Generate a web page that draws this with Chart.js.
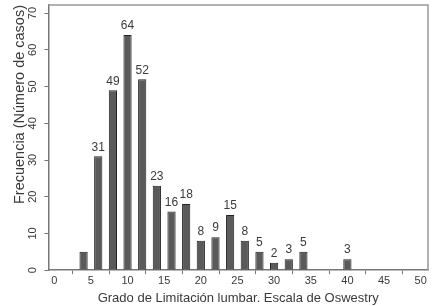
<!DOCTYPE html>
<html>
<head>
<meta charset="utf-8">
<script src="https://cdn.jsdelivr.net/npm/chart.js@4"></script>
<style>
  html, body { margin: 0; padding: 0; background: #fff; }
  #wrap { width: 436px; height: 306px; }
</style>
</head>
<body>
<div id="wrap"><canvas id="grafico"></canvas></div>
<script>
// ── Datos ─────────────────────────────────────────────
const PUNTUACION = [4, 6, 8, 10, 12, 14, 16, 18, 20, 22, 24, 26, 28, 30, 32, 34, 40];
const CASOS = [5, 31, 49, 64, 52, 23, 16, 18, 8, 9, 15, 8, 5, 2, 3, 5, 3];
const ETIQUETAS = ["", "31", "49", "64", "52", "23", "16", "18", "8", "9", "15", "8", "5", "2", "3", "5", "3"];
const TICKS_X = [0, 5, 10, 15, 20, 25, 30, 35, 40, 45, 50];
const TICKS_Y = [0, 10, 20, 30, 40, 50, 60, 70];

const FUENTE = "'Liberation Sans', Arial, sans-serif";
const GRIS_TEXTO = "#3a3a3a";

// Marco superior/derecho, etiquetas de las barras y ticks Y girados
const marcoPlugin = {
  id: "marco",
  afterDatasetsDraw(chart) {
    const { ctx, chartArea: a } = chart;
    ctx.save();
    ctx.strokeStyle = "#999";
    ctx.lineWidth = 1.5;
    ctx.beginPath();
    ctx.moveTo(a.left, a.top);
    ctx.lineTo(a.right, a.top);
    ctx.lineTo(a.right, a.bottom);
    ctx.stroke();

    const meta = chart.getDatasetMeta(0);
    ctx.fillStyle = GRIS_TEXTO;
    ctx.font = "12px " + FUENTE;
    ctx.textAlign = "center";
    ctx.textBaseline = "bottom";
    meta.data.forEach((bar, i) => {
      if (ETIQUETAS[i]) ctx.fillText(ETIQUETAS[i], bar.x, bar.y - 3);
    });

    // etiquetas del eje Y, leídas de abajo hacia arriba
    const y = chart.scales.y;
    ctx.font = "11px " + FUENTE;
    ctx.textBaseline = "middle";
    TICKS_Y.forEach((v) => {
      ctx.save();
      ctx.translate(y.right - 15, y.getPixelForValue(v));
      ctx.rotate(-Math.PI / 2);
      ctx.fillText(String(v), 0, 0);
      ctx.restore();
    });
    ctx.restore();
  },
};

new Chart(document.getElementById("grafico"), {
  type: "bar",
  data: {
    datasets: [
      {
        data: PUNTUACION.map((x, i) => ({ x, y: CASOS[i] })),
        backgroundColor: "#5a5a5a",
        borderColor: "#222",
        borderWidth: 1,
        barPercentage: 0.56,
        categoryPercentage: 1,
      },
    ],
  },
  options: {
    responsive: true,
    maintainAspectRatio: false,
    animation: false,
    layout: { padding: { top: 5, right: 8, bottom: 0, left: 11 } },
    plugins: { legend: { display: false }, tooltip: { enabled: false } },
    scales: {
      x: {
        type: "linear",
        offset: false,
        min: -0.8,
        max: 51,
        afterBuildTicks: (s) => { s.ticks = TICKS_X.map((v) => ({ value: v })); },
        grid: { display: true, drawOnChartArea: false, drawTicks: true, tickLength: 4, tickColor: "#777" },
        border: { display: true, color: "#777", width: 1.5 },
        ticks: { color: GRIS_TEXTO, font: { family: FUENTE, size: 11 }, padding: 0, maxRotation: 0 },
        title: {
          display: true,
          text: "Grado de Limitación lumbar. Escala de Oswestry",
          color: GRIS_TEXTO,
          font: { family: FUENTE, size: 13 },
          padding: { top: 3, bottom: 0 },
        },
      },
      y: {
        min: 0,
        max: 72.2,
        afterBuildTicks: (s) => { s.ticks = TICKS_Y.map((v) => ({ value: v })); },
        afterFit: (s) => { s.paddingTop = 0; s.paddingBottom = 0; },
        grid: { display: true, drawOnChartArea: false, drawTicks: true, tickLength: 4, tickColor: "#777" },
        border: { display: true, color: "#777", width: 1.5 },
        ticks: { display: false },
        title: {
          display: true,
          align: "end",
          text: "Frecuencia (Número de casos)",
          color: GRIS_TEXTO,
          font: { family: FUENTE, size: 14.5 },
          padding: { top: 0, bottom: 16 },
        },
      },
    },
  },
  plugins: [marcoPlugin],
});
</script>
</body>
</html>
